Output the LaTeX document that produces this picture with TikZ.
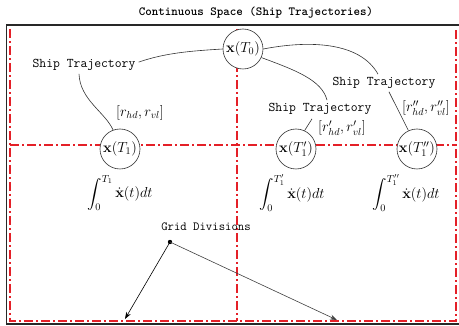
\documentclass[tikz,border=0pt]{standalone}
\usepackage{fix-cm}
\usepackage{amsmath}
\usetikzlibrary{arrows.meta}
\definecolor{gridred}{RGB}{228,32,40}
\definecolor{framegray}{RGB}{40,40,40}
\tikzset{
  gridline/.style={gridred, line width=1.3pt, dash pattern=on 9pt off 3pt on 2pt off 3pt},
  statenode/.style={circle, draw=black!80, line width=0.6pt, minimum size=40pt, inner sep=0pt, font=\fontsize{14.5}{16}\selectfont},
  ttlabel/.style={inner sep=0pt, font=\fontsize{13.3}{15}\selectfont\ttfamily},
  mathlabel/.style={inner sep=0pt, font=\fontsize{14.5}{16}\selectfont},
  traj/.style={black!80, line width=0.6pt},
  gridarrow/.style={black, line width=0.6pt, -{Stealth[length=7pt,width=5pt]}}
}
\begin{document}
\begin{tikzpicture}[x=1pt,y=-1pt]
\useasboundingbox (0,0) rectangle (459,326);
% title
\node[inner sep=0pt, font=\fontsize{12.4}{14}\selectfont\ttfamily\bfseries] (title) at (256,13) {Continuous Space (Ship Trajectories)};
% grid lines
\draw[gridline] (10,29) -- (10,321) -- (456,321) -- (456,29);
\draw[gridline] (10,145) -- (456,145);
\draw[gridline] (237,29) -- (237,321);
% outer frame
\draw[framegray, line width=1.2pt] (459,25) -- (6.5,25) -- (6.5,324) -- (459,324);
% state nodes
\node[statenode, fill=white] (T0) at (243,49) {$\mathbf{x}(T_0)$};
\node[statenode, fill=white] (T1) at (120,149) {$\mathbf{x}(T_1)$};
\node[statenode, fill=white] (T1p) at (296,149) {$\mathbf{x}(T_1')$};
\node[statenode, fill=white] (T1pp) at (417,149) {$\mathbf{x}(T_1'')$};
% labels
\node[ttlabel] (lblA) at (84,65) {Ship Trajectory};
\node[ttlabel] (lblB) at (320,109) {Ship Trajectory};
\node[ttlabel] (lblC) at (384,83) {Ship Trajectory};
\node[mathlabel] (rA) at (140,113) {$[r_{hd}, r_{vl}]$};
\node[mathlabel] (rB) at (342,128) {$[r'_{hd}, r'_{vl}]$};
\node[mathlabel] (rC) at (426,108) {$[r''_{hd}, r''_{vl}]$};
% integrals
\node[mathlabel] (iA) at (120,193) {$\displaystyle\int_0^{T_1} \dot{\mathbf{x}}(t)dt$};
\node[mathlabel] (iB) at (292,193) {$\displaystyle\int_0^{T_1'} \dot{\mathbf{x}}(t)dt$};
\node[mathlabel] (iC) at (406,193) {$\displaystyle\int_0^{T_1''} \dot{\mathbf{x}}(t)dt$};
% trajectories
\draw[traj] (T0.west) .. controls (190,51) and (165,53) .. ([shift={(3pt,-3pt)}]lblA.north east);
\draw[traj] ([shift={(-5pt,-3pt)}]lblA.south) .. controls (80,100) and (105,112) .. (T1.110);
\draw[traj] (T0.east) .. controls (310,40) and (360,42) .. ([shift={(-6pt,3pt)}]lblC.north);
\draw[traj] (T0.-25) .. controls (295,70) and (322,80) .. ([shift={(7pt,3pt)}]lblB.north);
\draw[traj] ([shift={(-8pt,-4pt)}]lblB.south) -- (T1p.65);
\draw[traj] ([shift={(5pt,-3pt)}]lblC.south) -- (T1pp.115);
% grid divisions
\node[inner sep=0pt, font=\fontsize{12.4}{14}\selectfont\ttfamily] (gd) at (206,227) {Grid Divisions};
\fill (170,242) circle (2.2pt);
\coordinate (gdot) at (170,242);
\coordinate (endA) at (125,319);
\coordinate (endB) at (337,320);
\draw[gridarrow] (gdot) -- (endA);
\draw[gridarrow, black!75] (gdot) -- (endB);
\end{tikzpicture}
\end{document}
